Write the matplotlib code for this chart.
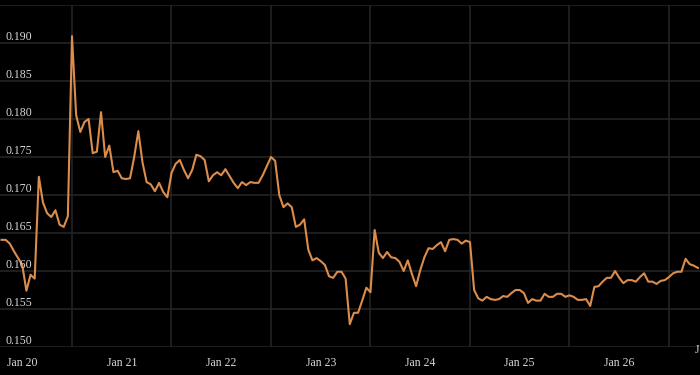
import pandas as pd
import matplotlib.pyplot as plt
import matplotlib.transforms as mtransforms

# hourly prices, first sample Jan 19 19:00
start = "2024-01-19 19:00"
prices = [
    0.1641, 0.1641, 0.1636, 0.1626, 0.1617, 0.1608, 0.1574, 0.1595, 0.1590, 0.1724,
    0.1690, 0.1676, 0.1671, 0.1680, 0.1661, 0.1658, 0.1672, 0.1909, 0.1805, 0.1783,
    0.1796, 0.1800, 0.1755, 0.1757, 0.1809, 0.1750, 0.1765, 0.1730, 0.1732, 0.1722,
    0.1721, 0.1722, 0.1750, 0.1784, 0.1743, 0.1717, 0.1714, 0.1705, 0.1716, 0.1704,
    0.1697, 0.1729, 0.1741, 0.1746, 0.1733, 0.1722, 0.1733, 0.1753, 0.1751, 0.1746,
    0.1718, 0.1726, 0.1730, 0.1726, 0.1734, 0.1725, 0.1716, 0.1709, 0.1717, 0.1713,
    0.1717, 0.1716, 0.1716, 0.1726, 0.1738, 0.1750, 0.1745, 0.1700, 0.1684, 0.1689,
    0.1684, 0.1658, 0.1661, 0.1668, 0.1628, 0.1614, 0.1617, 0.1613, 0.1608, 0.1593,
    0.1591, 0.1599, 0.1599, 0.1590, 0.1530, 0.1545, 0.1545, 0.1561, 0.1578, 0.1572,
    0.1654, 0.1624, 0.1617, 0.1625, 0.1618, 0.1617, 0.1612, 0.1600, 0.1614, 0.1596,
    0.1580, 0.1601, 0.1618, 0.1630, 0.1629, 0.1634, 0.1638, 0.1626, 0.1641, 0.1642,
    0.1641, 0.1636, 0.1640, 0.1638, 0.1575, 0.1564, 0.1561, 0.1566, 0.1563, 0.1562,
    0.1563, 0.1567, 0.1566, 0.1571, 0.1575, 0.1575, 0.1571, 0.1558, 0.1563, 0.1561,
    0.1561, 0.1570, 0.1566, 0.1566, 0.1570, 0.1570, 0.1566, 0.1568, 0.1566, 0.1562,
    0.1562, 0.1563, 0.1554, 0.1579, 0.1580, 0.1586, 0.1591, 0.1591, 0.1600, 0.1591,
    0.1584, 0.1588, 0.1588, 0.1586, 0.1592, 0.1597, 0.1586, 0.1586, 0.1583, 0.1587,
    0.1588, 0.1592, 0.1597, 0.1599, 0.1599, 0.1616, 0.1609, 0.1607, 0.1604,
]
y_ticks = [0.150, 0.155, 0.160, 0.165, 0.170, 0.175, 0.180, 0.185, 0.190]
day_labels = ["Jan 20", "Jan 21", "Jan 22", "Jan 23", "Jan 24", "Jan 25", "Jan 26"]

times = pd.date_range(start, periods=len(prices), freq="h")
days = pd.date_range("2024-01-20", periods=len(day_labels), freq="D")
noons = days + pd.Timedelta(hours=12)

fig = plt.figure(figsize=(7, 3.75), dpi=100, facecolor="black")
ax = fig.add_axes([0, 1 - 347 / 375, 1, (347 - 5) / 375])
ax.set_facecolor("black")

grid_col = "#272727"
for v in y_ticks + [0.195]:
    ax.axhline(v, color=grid_col, lw=1.1, zorder=1)
for t in noons:
    ax.axvline(t, color=grid_col, lw=1.1, zorder=1)

ax.plot(times, prices, color="#dc8c4b", lw=1.5, zorder=3)

ax.set_xlim(pd.Timestamp(start) - pd.Timedelta(minutes=22),
            pd.Timestamp(start) + pd.Timedelta(hours=168, minutes=29))
ax.set_ylim(0.150, 0.195)

for s in ax.spines.values():
    s.set_visible(False)
ax.set_yticks([])
ax.set_xticks(days)
ax.set_xticklabels(day_labels)
ax.tick_params(axis="x", length=0, pad=7, colors="#d8d8d8", labelsize=8.5)
for lab in ax.get_xticklabels():
    lab.set_family("Liberation Serif")

trans = mtransforms.blended_transform_factory(ax.transAxes, ax.transData)
for v in y_ticks:
    ax.text(5 / 700, v + 0.00004, f"{v:.3f}", transform=trans, ha="left", va="bottom",
            color="#d8d8d8", fontsize=8.5, family="Liberation Serif", zorder=4)

fig.text(695 / 700, 1 - 350 / 375, "J", color="#d8d8d8", fontsize=8.5,
         family="Liberation Serif", ha="left", va="center")

fig.savefig("out.png", dpi=100, facecolor="black")
